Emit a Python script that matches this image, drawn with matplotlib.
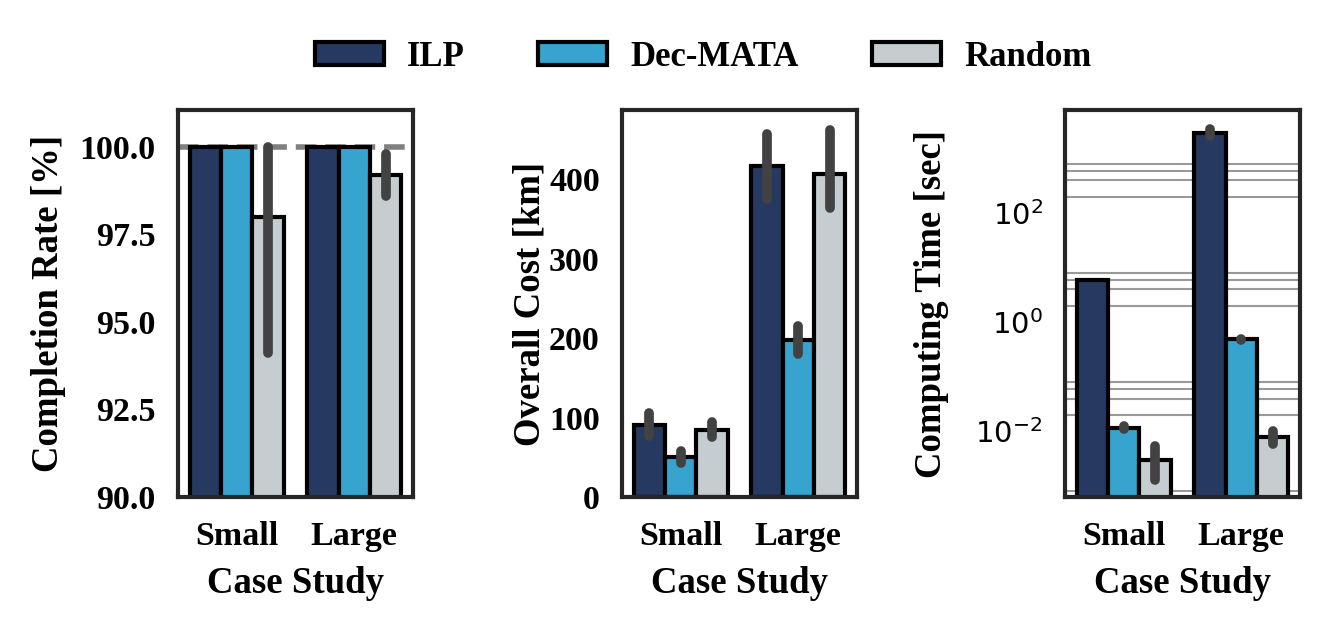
import numpy as np
import matplotlib
matplotlib.use("Agg")
import matplotlib.pyplot as plt
from matplotlib.patches import Patch
from matplotlib.ticker import FixedLocator, NullFormatter

plt.rcParams['font.family'] = ['Liberation Serif', 'DejaVu Sans']
plt.rcParams['mathtext.fontset'] = 'dejavusans'
plt.rcParams['mathtext.default'] = 'rm'

cases = ["Small", "Large"]
methods = ["ILP", "Dec-MATA", "Random"]
colors = ["#263961", "#37A3CF", "#C6CDD0"]

# rows = methods, cols = cases
completion_mean = [[100.0, 100.0], [100.0, 100.0], [98.0, 99.2]]
completion_lo = [[100.0, 100.0], [100.0, 100.0], [94.1, 98.6]]
completion_hi = [[100.0, 100.0], [100.0, 100.0], [100.0, 99.8]]

cost_mean = [[90.6, 416.0], [50.7, 197.5], [84.3, 407.0]]
cost_lo = [[77.0, 375.0], [43.0, 180.0], [75.0, 364.0]]
cost_hi = [[106.0, 457.0], [58.0, 215.0], [94.0, 462.0]]

time_mean = [[5.9, 2950.0], [0.0118, 0.484], [0.0030, 0.0080]]
time_lo = [[5.9, 2560.0], [0.0113, 0.47], [0.0013, 0.0058]]
time_hi = [[5.9, 3440.0], [0.0124, 0.50], [0.0055, 0.0102]]

TICK_FS = 24.5
LABEL_FS = 26.5
BAR_W = 0.8 / 3
ERR_COLOR = "#424242"


def bold_ticks(labels):
    for t in labels:
        t.set_fontweight("bold")


def draw_bars(ax, mean, lo, hi):
    x = np.arange(len(cases))
    for i, m in enumerate(methods):
        pos = x - 0.4 + BAR_W * (i + 0.5)
        ax.bar(pos, mean[i], width=BAR_W, color=colors[i], edgecolor="black",
               linewidth=3, zorder=2)
        for p, l, h in zip(pos, lo[i], hi[i]):
            if h > l:
                ax.plot([p, p], [l, h], color=ERR_COLOR, lw=7,
                        solid_capstyle="round", zorder=3)
    ax.set_xticks(x)
    ax.set_xticklabels(cases, fontsize=TICK_FS, fontweight="bold")
    ax.set_xlim(-0.5, 1.5)
    for s in ax.spines.values():
        s.set_linewidth(3)
        s.set_color("#262626")
    ax.tick_params(axis="both", length=0, labelsize=TICK_FS)
    ax.tick_params(axis="x", pad=17)
    ax.tick_params(axis="y", pad=16)
    ax.set_xlabel("Case Study", fontsize=LABEL_FS, fontweight="bold")
    ax.xaxis.set_label_coords(0.5, -0.178)
    ax.xaxis.label.set_va("top")


fig = plt.figure(figsize=(13.27, 6.3), dpi=100)
W, H = 1327, 630
lefts = [178, 622, 1065]
axes = [fig.add_axes([l / W, (H - 497) / H, 235 / W, 387 / H]) for l in lefts]
ax1, ax2, ax3 = axes

# completion rate
ax1.axhline(100, color="gray", lw=4, ls="--", zorder=1)
draw_bars(ax1, completion_mean, completion_lo, completion_hi)
ax1.set_ylim(90, 101.05)
ax1.set_yticks([90, 92.5, 95, 97.5, 100])
ax1.set_yticklabels(["%.1f" % v for v in [90, 92.5, 95, 97.5, 100]])
bold_ticks(ax1.get_yticklabels())
ax1.set_ylabel("Completion Rate [%]", fontsize=LABEL_FS, fontweight="bold")
ax1.yaxis.set_label_coords(-0.475, 0.5)

# overall cost
draw_bars(ax2, cost_mean, cost_lo, cost_hi)
ax2.set_ylim(0, 487)
ax2.set_yticks([0, 100, 200, 300, 400])
ax2.set_yticklabels(["0", "100", "200", "300", "400"])
bold_ticks(ax2.get_yticklabels())
ax2.set_ylabel("Overall Cost [km]", fontsize=LABEL_FS, fontweight="bold")
ax2.yaxis.set_label_coords(-0.319, 0.5)

# computing time
ax3.set_yscale("log")
draw_bars(ax3, time_mean, time_lo, time_hi)
ax3.set_ylim(6.3e-4, 7700)
ax3.yaxis.set_major_locator(FixedLocator([1e-2, 1, 1e2]))
ax3.set_yticklabels([r"$10^{-2}$", r"$10^{0}$", r"$10^{2}$"],
                    fontsize=21, fontweight="normal")
minor = [m * 10.0 ** k for k in (-4, -2, 0, 2) for m in (2, 4, 6, 8)]
ax3.yaxis.set_minor_locator(FixedLocator(minor))
ax3.yaxis.set_minor_formatter(NullFormatter())
ax3.tick_params(axis="y", which="minor", length=0)
ax3.yaxis.grid(True, which="minor", color="#999999", lw=1.5, zorder=0)
ax3.yaxis.grid(False, which="major")
ax3.set_axisbelow(True)
ax3.set_ylabel("Computing Time [sec]", fontsize=LABEL_FS, fontweight="bold")
ax3.yaxis.set_label_coords(-0.494, 0.5)

handles = [Patch(facecolor=c, edgecolor="black", linewidth=3, label=m)
           for m, c in zip(methods, colors)]
fig.legend(handles=handles, loc="center", bbox_to_anchor=(703 / W, 1 - 57 / H),
           ncol=3, frameon=False, prop={"size": 25, "weight": "bold"},
           handlelength=2.0, handleheight=0.65, handletextpad=0.66,
           columnspacing=2.1)

fig.savefig("out.png", dpi=100)
